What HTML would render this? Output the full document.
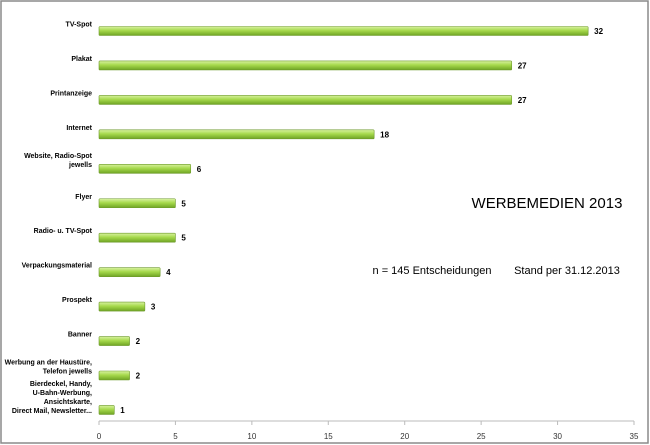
<!DOCTYPE html>
<html><head><meta charset="utf-8"><style>
body{margin:0;background:#fff;}
svg{display:block;font-family:"Liberation Sans",Arial,sans-serif;}
</style></head><body>
<svg id="chart" width="650" height="445">
<defs><linearGradient id="g" x1="0" y1="0" x2="0" y2="1">
<stop offset="0" stop-color="#d8f2a0"/><stop offset="0.45" stop-color="#a6d94c"/><stop offset="1" stop-color="#6fa424"/></linearGradient></defs>
<rect x="1" y="1" width="647" height="442" fill="#fff" stroke="#8a8a8a" stroke-width="1.5"/>
<text x="547" y="208" font-size="15" text-anchor="middle" fill="#000">WERBEMEDIEN 2013</text>
<text x="432" y="274" font-size="11" text-anchor="middle">n = 145 Entscheidungen</text>
<text x="567" y="274" font-size="11" text-anchor="middle">Stand per 31.12.2013</text>
<g id="plot"></g>
</svg>
<script>
const categories=[["TV-Spot"],["Plakat"],["Printanzeige"],["Internet"],["Website, Radio-Spot","jewells"],["Flyer"],["Radio- u. TV-Spot"],["Verpackungsmaterial"],["Prospekt"],["Banner"],["Werbung an der Haustüre,","Telefon jewells"],["Bierdeckel, Handy,","U-Bahn-Werbung,","Ansichtskarte,","Direct Mail, Newsletter..."]];
const values=[32,27,27,18,6,5,5,4,3,2,2,1];
const ticks=[0,5,10,15,20,25,30,35];
const ns="http://www.w3.org/2000/svg";
const g=document.getElementById('plot');
const x0=99,x1=634,xMax=35,yTop=31,step=34.45,axisY=421;
const xs=v=>x0+(x1-x0)*v/xMax;
const ys=i=>yTop+i*step;
function mk(t,a){const e=document.createElementNS(ns,t);for(const k in a)e.setAttribute(k,a[k]);g.appendChild(e);return e;}
const ax=mk('line',{x1:x0,y1:axisY,x2:x1,y2:axisY,stroke:'#bbb'});


ticks.forEach(t=>{
 const l=mk('line',{x1:xs(t),y1:axisY,x2:xs(t),y2:axisY+4,stroke:'#bbb'});
 
 
 const tx=mk('text',{x:xs(t),y:439,'font-size':8,'text-anchor':'middle',fill:'#333'});
 tx.textContent=t;
 
 
});
values.forEach((v,i)=>{
 const cy=ys(i);
 const r=mk('rect',{x:x0,y:cy-4.5,width:xs(v)-x0,height:9,fill:'url(#g)',stroke:'#6e9a2c','stroke-width':0.6,rx:1});
 
 
 const lv=mk('text',{x:xs(v)+6,y:cy+3,'font-size':8,'font-weight':'bold'});
 lv.textContent=v;
 
 
 const lines=categories[i];const lh=9;
 const tx=mk('text',{x:92,'font-size':7,'font-weight':'bold','text-anchor':'end'});
 
 
 const startY=cy+2.5-(lines.length-1)*lh/2-(lines.length>1?2:0)-(lines.length>2?(lines.length-2)*1.5:0);
 lines.forEach((s,j)=>{const sp=document.createElementNS(ns,'tspan');sp.setAttribute('x',92);sp.setAttribute('y',(lines.length>2?cy-28+j*lh+4:startY+j*lh));sp.textContent=s;tx.appendChild(sp);});
 if(lines.length<=2){tx.setAttribute('transform','translate(0,-7)');}
});
</script>
</body></html>
